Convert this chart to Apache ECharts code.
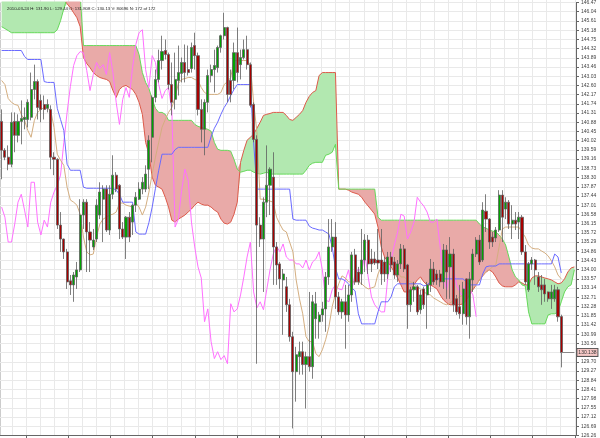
<!DOCTYPE html>
<html><head><meta charset="utf-8">
<script src="https://cdn.jsdelivr.net/npm/echarts@6/dist/echarts.min.js"></script>
<style>html,body{margin:0;padding:0;background:#fff}#c{width:600px;height:438px}</style>
</head><body><div id="c"></div>
<script>
const headerText = '2010-03-24 H: 131.90 L: 129.44 O: 131.808 C: 130.13 V: 80696 N: 172 of 172';
const lastPrice = 130.138;
const yMin = 126.26, yMax = 146.47, yStep = 0.43;

const opens = [140.92,139.57,139.25,138.92,140.92,140.27,140.92,141.01,141.01,141.11,
142.41,142.78,141.90,141.71,141.53,141.48,139.25,139.15,136.08,135.43,
134.83,133.48,133.29,133.66,133.99,136.55,137.15,135.76,135.06,135.43,
136.55,137.29,137.76,135.85,137.52,138.41,137.94,135.90,135.52,136.45,
136.22,137.01,137.29,137.76,137.76,138.69,140.18,142.04,142.88,143.76,
144.23,144.04,142.64,141.95,142.83,143.16,143.67,143.34,143.39,144.46,
143.99,141.48,140.55,141.81,143.06,143.34,143.43,144.37,144.92,145.30,
142.83,142.83,144.13,143.57,143.90,144.27,143.57,141.71,140.08,136.08,
135.43,137.15,137.94,138.32,135.06,134.27,133.52,133.20,132.36,130.87,
129.24,129.94,130.17,129.57,129.94,129.47,131.71,131.57,131.89,132.17,
133.66,135.06,135.52,132.73,132.03,132.50,131.89,132.82,134.69,133.89,
133.80,134.45,135.38,134.50,134.50,134.45,134.45,134.36,133.80,134.59,
134.36,133.75,134.27,134.97,134.22,132.36,133.06,133.20,132.13,133.10,
132.82,133.29,134.03,133.80,133.80,133.43,134.92,134.13,134.73,132.64,
132.27,131.94,133.57,131.80,133.52,134.73,135.38,134.45,136.73,136.36,
135.52,135.48,135.85,137.48,136.83,137.15,136.13,136.31,136.22,136.45,
134.83,133.06,134.27,134.45,133.66,133.29,133.29,132.96,132.64,132.64,
133.06,131.81];

const closes = [139.57,139.25,138.92,140.88,140.27,140.92,141.06,141.11,141.81,142.41,
142.78,141.57,141.48,141.48,141.71,139.25,139.15,136.08,135.43,134.83,
133.43,133.29,133.75,133.99,136.55,137.15,135.76,135.38,135.38,137.01,
137.62,137.76,135.85,137.52,138.41,137.76,135.90,135.52,136.45,135.52,
137.01,137.38,137.76,138.08,138.46,140.04,142.04,142.88,143.76,144.18,
144.04,142.64,141.81,142.88,143.20,143.67,143.20,143.20,144.37,143.99,
141.48,140.55,141.81,143.06,143.34,143.53,144.37,144.92,145.30,142.18,
142.18,144.13,143.20,143.90,144.27,143.57,141.67,140.08,136.08,135.43,
137.15,137.94,138.69,135.06,134.22,133.57,133.80,132.36,130.87,129.24,
130.03,130.17,129.57,129.94,129.47,132.50,132.41,131.89,132.17,133.66,
135.06,135.52,132.73,132.03,132.50,131.89,132.82,134.69,133.43,133.43,
134.45,135.38,134.27,134.27,134.31,134.31,133.80,133.80,134.59,134.22,
133.75,134.27,134.97,134.03,132.36,133.06,133.20,132.03,132.82,132.36,
133.29,134.03,133.43,133.52,133.43,134.92,133.89,134.73,132.36,132.03,
131.94,133.10,131.80,133.57,134.73,135.38,134.36,136.78,136.36,135.29,
135.29,135.85,137.48,136.45,137.15,136.13,136.31,136.13,136.45,134.83,
133.43,134.27,134.45,133.99,133.20,133.06,132.87,132.64,132.96,133.06,
131.80,130.13];

const lows = [138.22,139.11,138.64,138.78,139.48,139.94,139.85,140.55,140.64,140.97,
141.95,141.01,140.88,141.01,141.34,138.69,138.41,135.90,134.83,134.50,
133.10,132.82,132.50,133.10,133.89,135.90,133.89,133.89,134.92,135.29,
136.36,135.29,135.76,135.62,137.29,137.62,135.43,135.43,134.50,135.29,
135.62,136.69,137.25,137.52,137.62,137.76,139.01,141.81,142.74,143.34,
143.81,142.41,141.20,141.48,142.13,142.74,142.74,143.06,143.20,143.34,
141.20,139.94,139.34,141.34,142.74,142.27,143.20,144.13,144.74,141.81,
141.81,142.41,142.74,142.88,143.81,143.34,141.57,139.94,129.61,135.06,
132.96,136.45,136.55,133.29,133.29,133.10,130.96,132.03,130.64,126.59,
127.84,129.10,129.10,127.52,129.24,128.91,130.78,130.78,131.57,131.10,
133.29,134.83,132.17,131.89,131.71,130.31,131.57,132.50,133.29,133.29,
133.29,133.89,133.80,133.89,134.22,134.03,133.29,133.43,133.57,133.89,
133.57,133.43,134.03,133.89,131.24,132.03,132.50,131.89,131.94,132.17,
131.24,132.96,133.29,133.29,133.20,133.10,132.64,132.64,132.03,131.89,
131.71,131.43,131.43,130.78,132.96,134.59,134.22,134.36,135.76,134.97,
135.06,135.29,135.76,135.29,136.36,135.90,135.43,135.85,135.43,134.69,
133.29,132.96,133.99,133.29,132.96,132.36,132.50,132.50,132.17,132.50,
131.57,129.44];

const highs = [141.48,139.67,139.80,141.34,141.34,141.25,141.90,141.57,141.95,143.20,
143.57,142.88,142.18,142.13,141.95,141.67,139.48,139.20,136.69,135.45,
134.97,133.75,133.89,134.36,137.29,137.29,137.29,136.22,135.90,137.29,
138.08,137.94,137.94,137.94,139.34,138.55,137.99,136.22,136.50,136.69,
137.05,137.62,138.08,138.32,138.87,140.27,142.13,143.34,144.27,144.92,
144.74,144.13,143.67,144.13,144.46,143.90,144.51,144.46,144.60,145.06,
144.13,141.95,141.95,143.34,143.57,144.27,144.46,144.97,145.99,145.34,
143.34,144.60,145.30,144.27,144.74,144.92,143.67,141.81,140.27,136.45,
137.38,139.80,138.78,139.48,135.29,134.36,134.03,133.66,132.64,131.10,
130.40,130.64,130.64,130.17,132.96,132.82,132.96,132.03,132.50,133.89,
136.36,136.36,136.22,132.96,132.64,133.29,133.29,134.83,134.97,134.13,
135.90,135.66,135.62,134.97,134.83,135.90,135.90,134.59,134.83,134.83,
134.59,134.45,135.20,135.15,134.27,133.20,133.43,133.29,133.06,133.20,
133.43,134.50,134.36,133.99,133.99,135.20,135.15,135.52,134.97,132.82,
133.29,133.43,133.60,133.89,134.97,135.52,135.62,137.15,137.52,136.40,
135.76,135.99,137.71,137.71,137.38,137.25,137.01,136.69,136.69,136.55,
135.15,134.36,134.59,134.50,133.89,133.75,133.57,132.98,133.29,133.29,
133.20,131.90];

const tenkan = [142.83,142.64,141.99,141.81,141.71,141.67,141.25,140.97,140.50,140.18,
140.97,141.34,141.48,141.57,141.53,141.43,140.64,139.39,139.11,138.87,
137.85,137.25,137.15,137.01,136.59,135.52,134.83,134.69,134.73,135.52,
136.13,136.36,136.45,136.55,136.59,136.69,137.11,137.11,137.01,136.97,
136.92,137.11,136.92,136.55,136.92,137.62,138.46,139.25,139.94,140.64,
141.01,141.34,141.57,142.04,142.69,142.88,142.92,142.97,142.97,142.88,
142.83,142.50,142.27,142.18,142.18,142.18,142.18,142.27,142.64,142.78,
142.97,143.76,143.76,143.76,143.76,143.76,143.57,141.81,140.41,137.29,
137.29,137.25,137.20,137.15,136.45,136.13,135.85,135.76,135.29,134.83,
133.52,132.64,131.94,130.87,130.64,130.64,130.08,129.94,130.26,130.73,
131.33,132.27,132.87,133.34,133.71,133.61,133.43,133.43,133.43,133.43,
133.34,133.20,133.10,133.15,133.20,133.80,134.13,134.31,134.36,134.36,
134.13,133.89,133.66,133.66,133.52,133.43,133.34,133.20,133.10,132.96,
132.87,132.82,132.68,132.59,132.50,132.41,132.36,132.45,132.55,132.64,
132.73,132.82,132.92,132.96,133.15,133.29,133.52,133.75,133.89,133.99,
134.13,134.22,135.06,135.90,135.99,135.99,135.99,135.99,135.99,135.76,
135.52,135.15,135.01,134.97,134.97,134.87,134.78,134.64,134.41,134.13,
133.75,133.57];

const kijun = [144.23,144.23,144.23,144.23,144.23,144.23,144.23,143.95,143.81,143.81,
143.81,143.81,143.81,142.78,142.74,142.74,142.74,141.53,141.01,140.50,
138.92,138.64,138.64,138.64,138.64,137.85,137.80,137.80,137.80,137.80,
137.80,137.80,137.80,137.80,137.80,137.71,137.52,137.15,137.15,137.15,
137.15,135.76,135.66,135.66,135.66,136.20,136.92,137.80,138.64,139.39,
139.39,139.39,139.39,139.60,139.71,139.71,139.71,139.71,139.71,139.71,
139.71,139.71,139.71,139.71,140.20,140.60,140.88,141.25,141.57,141.81,
142.13,142.41,142.64,142.64,142.64,142.64,142.64,139.94,137.76,137.76,
137.76,137.76,137.76,137.76,137.76,137.76,137.76,137.76,137.76,136.36,
136.31,136.31,136.31,136.31,136.03,135.94,135.90,135.85,135.85,135.76,
135.66,135.06,134.08,133.57,133.57,133.48,133.34,133.15,133.01,131.94,
131.47,131.47,131.47,131.47,131.47,132.03,132.50,132.50,132.50,132.73,
133.20,133.34,133.34,133.34,133.34,133.34,133.34,133.34,133.34,133.24,
133.29,133.43,133.57,133.57,133.57,133.57,133.57,133.57,133.57,133.57,
133.57,133.57,133.43,133.29,133.29,133.29,133.29,133.80,134.13,134.17,
134.17,134.17,134.27,134.27,134.27,134.27,134.27,134.27,134.27,134.27,
134.27,134.27,134.27,134.27,134.27,134.27,134.27,134.27,134.27,134.73,
134.59,133.85];

const chikou = [136.92,136.45,135.29,135.29,136.13,137.15,137.52,136.78,135.99,138.08,
138.08,136.22,135.62,136.31,135.99,137.15,137.62,137.94,138.41,139.94,
141.34,142.55,143.53,143.99,144.18,144.13,143.30,142.36,143.11,143.67,
143.39,143.57,143.11,144.13,143.20,141.81,140.78,141.95,142.50,142.04,
143.43,144.51,145.06,145.20,143.34,142.50,143.99,143.67,142.64,141.99,
142.36,142.50,141.43,135.99,136.36,137.71,138.69,138.18,136.22,135.06,
134.13,133.61,131.57,132.17,130.64,129.85,130.17,129.80,129.99,129.61,
132.41,132.03,132.17,132.82,133.66,134.59,135.29,132.96,132.22,132.50,
132.13,133.06,133.99,134.73,135.10,134.83,135.20,134.59,134.45,134.45,
134.27,134.27,134.08,134.45,133.99,134.36,134.50,134.83,133.99,132.59,
132.50,133.06,133.29,133.10,133.06,133.52,133.99,133.06,133.80,134.03,
133.89,134.73,133.66,132.73,132.36,132.17,132.03,132.03,133.66,134.45,
135.15,135.76,136.59,136.50,135.43,135.76,136.22,137.38,137.15,136.97,
136.69,136.22,136.22,136.36,135.06,133.66,133.06,134.03,134.13,133.29,
132.96,132.73,133.52,133.10,132.82,131.80];

const spanRed = [146.93,146.93,146.93,146.93,146.93,146.93,146.93,146.93,146.93,146.93,
146.93,146.93,146.93,146.93,146.93,146.93,146.93,146.93,146.93,146.60,
146.41,146.23,145.99,145.76,145.34,143.90,143.62,143.43,143.20,143.06,
142.97,142.92,142.88,142.78,142.36,142.04,142.41,142.55,142.60,142.50,
142.41,142.18,141.81,141.25,139.94,139.39,138.32,137.94,137.85,137.76,
137.38,136.92,136.31,136.22,136.36,136.45,136.55,136.69,136.83,137.01,
137.15,137.06,137.01,137.01,136.92,136.78,136.69,136.36,136.17,136.13,
136.22,136.59,137.15,139.01,139.57,140.04,140.18,140.32,140.60,140.88,
141.20,141.25,141.29,141.34,141.34,141.34,141.34,141.20,141.01,140.97,
141.11,141.25,141.43,141.81,142.09,142.27,142.36,143.06,143.20,143.20,
143.20,143.20,143.20,137.76,137.76,137.76,137.71,137.62,137.57,137.52,
137.38,137.15,136.97,136.78,136.59,135.99,135.06,134.59,134.36,134.13,
133.89,133.61,133.29,132.96,132.96,132.96,133.29,133.52,133.66,133.43,
133.29,133.29,133.20,133.10,132.82,132.59,132.45,132.36,132.36,132.36,
132.36,132.41,132.59,132.82,133.06,133.29,133.52,133.71,133.89,133.99,
133.89,133.66,133.38,133.24,133.20,133.20,133.20,133.29,133.43,133.38,
133.29,133.29,133.61,133.71,133.71,133.66,133.61,133.57,133.52,133.43,
133.34,133.38,133.57,133.89,134.08,134.13];

const spanGreen = [145.34,145.25,145.16,145.06,145.06,145.06,145.06,145.06,145.06,145.06,
145.06,145.06,145.06,145.06,145.06,145.06,145.06,145.20,145.62,146.18,
146.69,146.83,146.83,146.83,146.83,144.46,144.46,144.46,144.46,144.46,
144.46,144.46,144.46,144.46,144.46,144.46,144.46,144.46,144.46,144.46,
144.46,144.46,144.04,143.20,142.74,142.46,141.95,141.53,141.34,141.34,
141.25,140.97,140.97,140.97,140.97,140.97,140.97,140.97,140.97,140.78,
140.69,140.64,140.60,140.55,140.46,139.94,139.62,139.57,139.57,139.57,
139.53,139.15,138.69,138.55,138.59,138.64,138.64,138.55,138.50,138.46,
138.50,138.55,138.46,138.46,138.46,138.46,138.46,138.46,138.46,138.46,
138.46,138.46,138.46,138.64,138.87,138.97,139.01,139.01,139.01,139.34,
139.39,139.48,139.85,137.76,137.76,137.76,137.76,137.76,137.76,137.76,
137.76,137.76,137.76,137.76,137.76,136.45,136.31,136.31,136.31,136.31,
136.31,136.31,136.31,136.31,136.31,136.31,136.31,136.31,136.31,136.31,
136.31,136.31,136.31,136.31,136.31,136.31,136.31,136.31,136.31,136.31,
136.31,136.31,136.31,136.31,136.31,136.31,136.13,135.99,135.94,135.85,
135.80,135.76,135.62,135.43,135.15,134.59,133.99,133.66,133.52,133.29,
133.24,132.03,131.47,131.47,131.47,131.47,131.47,131.89,131.94,131.94,
132.03,132.50,132.96,133.20,133.29,133.99];

// ---- build options from the arrays ----
const nCats = spanRed.length;
const cats = Array.from({length: nCats}, (_, i) => 'd' + i);
const vCats = Array.from({length: 41}, (_, i) => 'g' + i);
const candles = opens.map((o, i) => [o, closes[i], lows[i], highs[i]]);
const cloudBase = spanRed.map((r, i) => Math.min(r, spanGreen[i]));
const greenFill = spanRed.map((r, i) => Math.max(r - spanGreen[i], 0));
const redFill = spanRed.map((r, i) => Math.max(spanGreen[i] - r, 0));

const chart = echarts.init(document.getElementById('c'), null, {renderer: 'canvas'});
const lineBase = {type: 'line', symbol: 'none', silent: true, xAxisIndex: 0, yAxisIndex: 0};
chart.setOption({
  animation: false,
  backgroundColor: '#ffffff',
  title: {
    text: headerText, left: 2, top: 2,
    textStyle: {fontSize: 4.3, fontWeight: 'normal', color: '#222', fontFamily: 'Liberation Sans'}
  },
  grid: [
    {left: 0, right: 24, top: 0, bottom: 2, show: true, borderColor: '#999', borderWidth: 1, backgroundColor: 'transparent'},
    {left: 12, right: 25.2, top: 0, bottom: 2, show: false}
  ],
  xAxis: [
    {gridIndex: 0, type: 'category', data: cats, boundaryGap: true,
     axisLine: {show: true, lineStyle: {color: '#666'}}, axisTick: {show: false},
     axisLabel: {show: false}, splitLine: {show: false}},
    {gridIndex: 1, type: 'category', data: vCats, boundaryGap: false,
     axisLine: {show: false}, axisLabel: {show: false},
     axisTick: {show: true, length: 3, interval: (i) => i % 3 === 1, lineStyle: {color: '#666'}},
     splitLine: {show: true, interval: 0, lineStyle: {color: '#e9e9e9', width: 1}}}
  ],
  yAxis: [
    {gridIndex: 0, type: 'value', position: 'right', min: yMin, max: yMax, interval: yStep,
     axisLine: {show: true, lineStyle: {color: '#666'}},
     axisTick: {show: true, length: 3, lineStyle: {color: '#666'}},
     axisLabel: {fontSize: 5, color: '#444', margin: 5, fontFamily: 'Liberation Sans',
                 formatter: (v) => v.toFixed(2)},
     splitLine: {show: true, lineStyle: {color: '#e9e9e9', width: 1}}},
    {gridIndex: 1, type: 'value', show: false}
  ],
  series: [
    Object.assign({}, lineBase, {name: 'base', data: cloudBase, stack: 'cloud', lineStyle: {opacity: 0}, z: 1}),
    Object.assign({}, lineBase, {name: 'gfill', data: greenFill, stack: 'cloud', lineStyle: {opacity: 0},
      areaStyle: {color: '#b2e8b0', opacity: 1}, z: 1}),
    Object.assign({}, lineBase, {name: 'rfill', data: redFill, stack: 'cloud', lineStyle: {opacity: 0},
      areaStyle: {color: '#e9aaa8', opacity: 1}, z: 1}),
    Object.assign({}, lineBase, {name: 'spanRed', data: spanRed, lineStyle: {color: '#dd5a4a', width: 1}, z: 2}),
    Object.assign({}, lineBase, {name: 'spanGreen', data: spanGreen, lineStyle: {color: '#66d95a', width: 1}, z: 2}),
    Object.assign({}, lineBase, {name: 'chikou', data: chikou, lineStyle: {color: '#ff70ff', width: 1}, z: 3}),
    Object.assign({}, lineBase, {name: 'tenkan', data: tenkan, lineStyle: {color: '#d4ae80', width: 1}, z: 3}),
    Object.assign({}, lineBase, {name: 'kijun', data: kijun, lineStyle: {color: '#6a6aff', width: 1}, z: 3}),
    {
      name: 'price', type: 'candlestick', data: candles, xAxisIndex: 0, yAxisIndex: 0, z: 4,
      barWidth: 2.6, silent: true,
      itemStyle: {color: '#00a400', color0: '#a80000', borderColor: '#5e5e5e', borderColor0: '#5e5e5e', borderWidth: 0.8},
      markLine: {
        silent: true, symbol: ['none', 'none'], animation: false,
        lineStyle: {color: '#888', width: 1, type: 'solid'},
        label: {show: true, position: 'end', distance: 3, formatter: String(lastPrice),
                fontSize: 5, color: '#333', fontFamily: 'Liberation Sans',
                backgroundColor: '#f6c8c6', borderColor: '#555', borderWidth: 1, padding: [1, 1]},
        data: [[{coord: [171, lastPrice]}, {coord: [175, lastPrice]}]]
      }
    }
  ]
});
</script>
</body></html>
